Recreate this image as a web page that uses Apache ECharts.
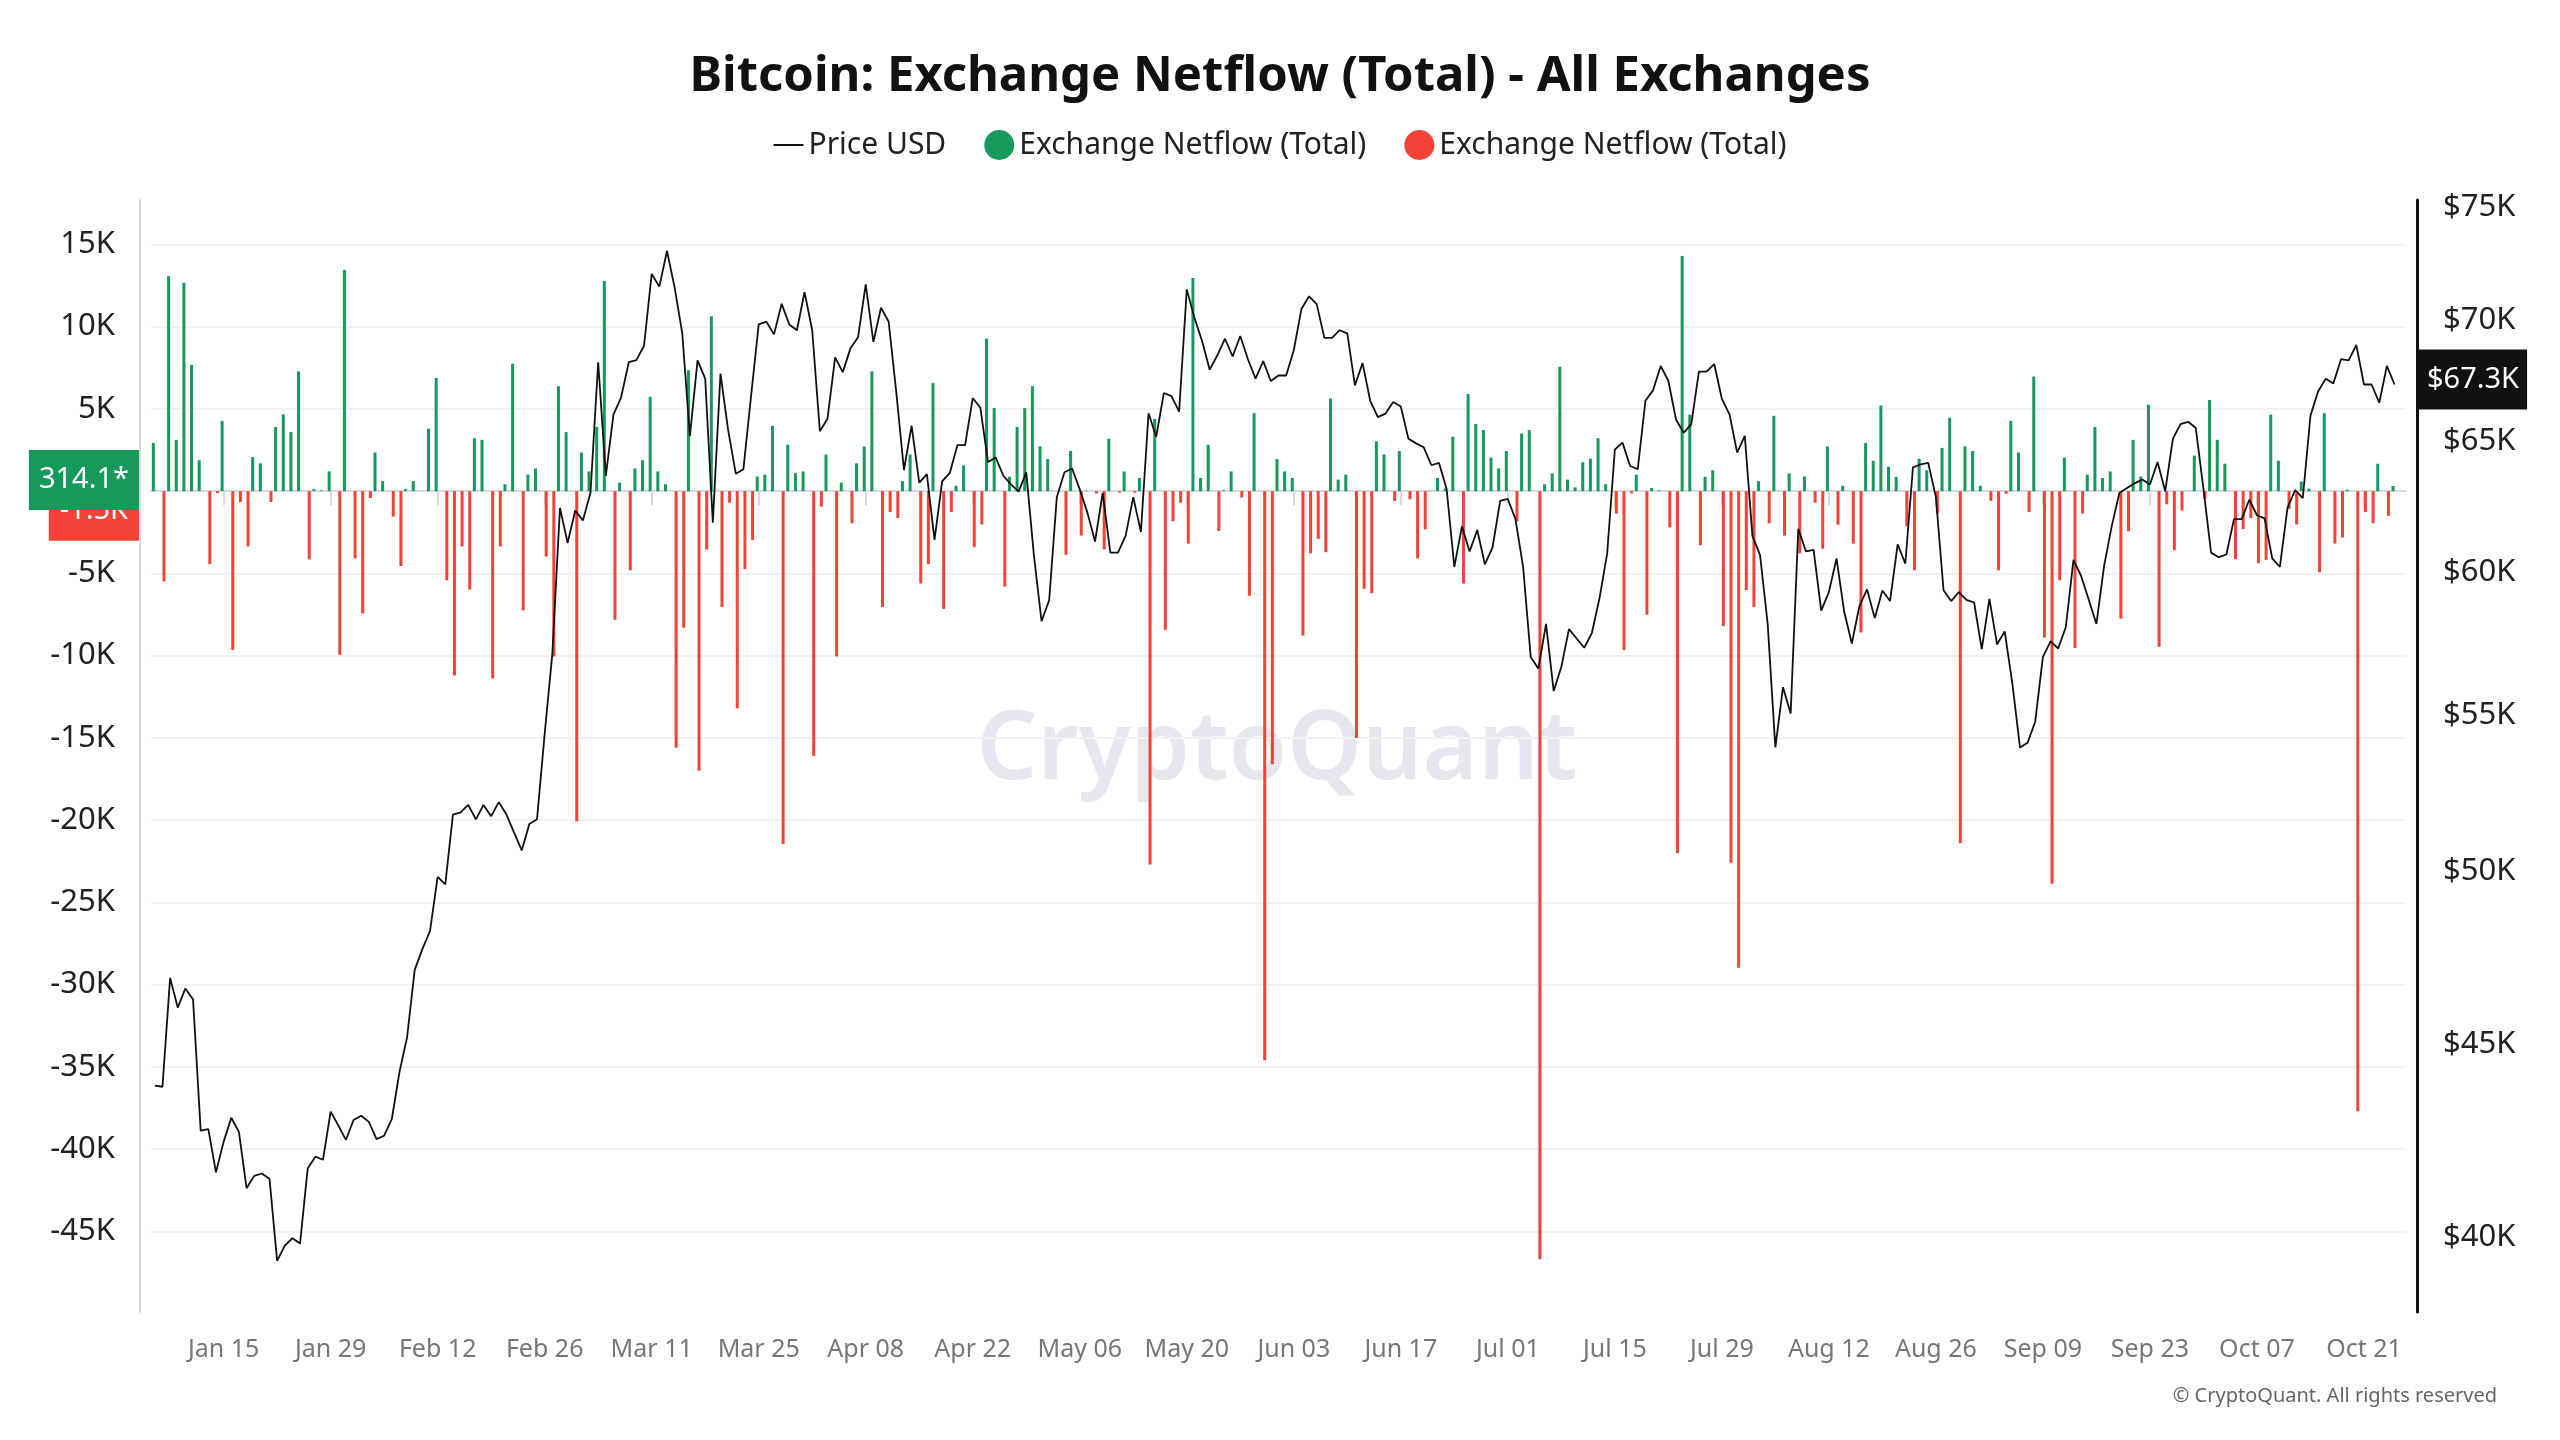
<!DOCTYPE html>
<html>
<head>
<meta charset="utf-8">
<title>Bitcoin: Exchange Netflow (Total) - All Exchanges</title>
<script src="https://cdn.jsdelivr.net/npm/echarts@6/dist/echarts.min.js"></script>
<style>
  html, body { margin: 0; padding: 0; background: #fff; }
  #chart { width: 2560px; height: 1440px; }
</style>
</head>
<body>
<div id="chart"></div>
<script>
// daily values, first day = 2024-01-06
var START = [2024, 0, 6];

// exchange netflow (BTC), one value per day
var netflowJan = [2930, -5490, 13070, 3120, 12670, 7670, 1880, -4440, -120, 4270, -9650, -660, -3360, 2070, 1690, -660, 3900, 4670, 3590, 7280, -4150, 120, 50, 1200, -9950, 13450];
var netflowFeb = [-4080, -7440, -420, 2350, 610, -1550, -4550, 120, 610, 0, 3800, 6880, -5420, -11200, -3360, -5980, 3220, 3120, -11380, -3360, 420, 7750, -7250, 1010, 1380, -3970, -10050, 6380, 3590];
var netflowMar = [-20070, 2350, 1200, 3900, 12770, -7820, 520, -4810, 1380, 1880, 5730, 1200, 420, -15600, -8300, 7350, -17000, -3540, 10630, -7040, -700, -13200, -4740, -2980, 890, 1000, 3970, -21450, 2820, 1100, 1200];
var netflowApr = [-16100, -940, 2230, -10050, 520, -1950, 1690, 2720, 7280, -7040, -1270, -1640, 610, 2230, -5610, -4440, 6570, -7160, -1270, 330, 1570, -3400, -2020, 9270, 5050, -5800, 870, 3900, 5050, 6380];
var netflowMay = [2720, 1950, 0, -3870, 2440, -2700, 20, -140, -3540, 3190, -90, 1200, -90, 800, -22700, 4390, -8430, -1830, -700, -3190, 12960, 800, 2820, -2420, 50, 1200, -380, -6360, 4740, -34600, -16600];
var netflowJun = [1950, 1200, 800, -8780, -3780, -2910, -3710, 5630, 700, 1000, -15000, -5940, -6200, 3030, 2230, -590, 2440, -490, -4080, -2320, 20, 800, 160, 3310, -5610, 5910, 4080, 3710, 2040, 1380];
var netflowJul = [2440, -1830, 3500, 3710, -46700, 420, 1080, 7560, 700, 230, 1760, 1970, 3220, 420, -1360, -9650, -140, 1000, -7510, 190, 50, -2200, -22000, 14300, 4650, -3290, 870, 1270, -8200, -22600, -28970];
var netflowAug = [-6010, -7040, 610, -1950, 4580, -2700, 1080, -3780, 890, -700, -3500, 2720, -2040, 330, -3190, -8590, 2930, 1850, 5210, 1480, 870, -2140, -4810, 1970, 1270, -1360, 2630, 4460, -21400, 2720, 2440];
var netflowSep = [330, -590, -4810, -160, 4270, 2350, -1270, 6970, -8900, -23860, -5420, 2040, -9530, -1360, 1000, 3900, 800, 1200, -7750, -2440, 3120, 890, 5260, -9460, -800, -3590, -1170, 0, 2160, -470];
var netflowOct = [5540, 3120, 1670, -4130, -2300, -1640, -4370, -4180, 4650, 1850, -1080, -2020, 590, 150, -4930, 4740, -3190, -2820, 90, -37700, -1270, -1950, 1670, -1500, 314.1];

// BTC price (USD), same days
var priceJan = [43870, 43840, 46850, 46010, 46550, 46240, 42680, 42720, 41610, 42390, 43020, 42650, 41210, 41520, 41580, 41450, 39420, 39790, 39970, 39840, 41710, 42010, 41930, 43180, 42820, 42440];
var priceFeb = [42960, 43070, 42910, 42460, 42550, 42980, 44230, 45180, 47080, 47680, 48210, 49830, 49600, 51760, 51830, 52065, 51610, 52065, 51710, 52155, 51760, 51190, 50640, 51465, 51615, 54370, 57080, 62410, 61090];
var priceMar = [62310, 61935, 63000, 68210, 63645, 66060, 66765, 68210, 68300, 68900, 71985, 71430, 73000, 71400, 69420, 65200, 68290, 67530, 61850, 67740, 65450, 63725, 63900, 66815, 69800, 69920, 69380, 70685, 69800, 69555, 71190];
var priceApr = [69555, 65400, 65900, 68410, 67800, 68790, 69260, 71530, 69060, 70515, 69920, 66970, 63870, 65620, 63380, 63710, 61205, 63425, 63755, 64850, 64850, 66735, 66340, 64180, 64360, 63645, 63315, 63030, 63780, 60635];
var priceMay = [58240, 58990, 62820, 63780, 63930, 63120, 62230, 61140, 62980, 60730, 60730, 61355, 62820, 61500, 66120, 65170, 66940, 66815, 66185, 71310, 70090, 69100, 67900, 68500, 69195, 68450, 69310, 68335, 67530, 68255, 67430];
var priceJun = [67660, 67660, 68710, 70465, 71010, 70670, 69230, 69230, 69555, 69420, 67255, 68175, 66625, 65965, 66105, 66575, 66390, 65095, 64915, 64760, 64055, 64145, 63120, 60200, 61710, 60775, 61575, 60300, 60920, 62675];
var priceJul = [62750, 61985, 60200, 56970, 56580, 58145, 55810, 56635, 57960, 57630, 57305, 57830, 59070, 60700, 64665, 64945, 64025, 63900, 66625, 67050, 68055, 67445, 65870, 65335, 65685, 67820, 67820, 68135, 66705, 66075, 64555];
var priceAug = [65215, 61355, 60635, 58130, 53925, 55945, 55050, 61620, 60775, 60830, 58620, 59285, 60515, 58585, 57455, 58790, 59380, 58350, 59340, 58960, 61040, 60320, 63975, 64085, 64145, 62820, 59355, 58960, 59285, 59005, 58910];
var priceSep = [57255, 59040, 57420, 57880, 56075, 53925, 54080, 54785, 56985, 57530, 57280, 58035, 60460, 59870, 59005, 58145, 60230, 61710, 62980, 63170, 63350, 63500, 63305, 64180, 63045, 65095, 65685, 65775, 65525, 63150];
var priceOct = [60730, 60560, 60660, 61985, 61985, 62720, 62130, 62015, 60515, 60200, 62410, 63095, 62780, 66020, 67005, 67530, 67335, 68335, 68290, 68930, 67290, 67290, 66545, 68055, 67290];

// axis ticks
var xTickDates = ['2024-01-15', '2024-01-29', '2024-02-12', '2024-02-26', '2024-03-11', '2024-03-25', '2024-04-08', '2024-04-22', '2024-05-06', '2024-05-20', '2024-06-03', '2024-06-17', '2024-07-01', '2024-07-15', '2024-07-29', '2024-08-12', '2024-08-26', '2024-09-09', '2024-09-23', '2024-10-07', '2024-10-21'];
var leftTicks = [-45000, -40000, -35000, -30000, -25000, -20000, -15000, -10000, -5000, 0, 5000, 10000, 15000];
var rightTicks = [40000, 45000, 50000, 55000, 60000, 65000, 70000, 75000];
var MONTHS = ['Jan', 'Feb', 'Mar', 'Apr', 'May', 'Jun', 'Jul', 'Aug', 'Sep', 'Oct', 'Nov', 'Dec'];

var GREEN = '#159a5c';
var RED = '#f44336';
var FONT = 'Noto Sans';
var NO_LINE = { width: 0, color: 'rgba(0,0,0,0)' };

var netflow = [].concat(netflowJan, netflowFeb, netflowMar, netflowApr, netflowMay, netflowJun, netflowJul, netflowAug, netflowSep, netflowOct);
var price = [].concat(priceJan, priceFeb, priceMar, priceApr, priceMay, priceJun, priceJul, priceAug, priceSep, priceOct);

var days = netflow.map(function (v, i) {
  return new Date(START[0], START[1], START[2] + i).getTime();
});
function parseDay(s) {
  var p = s.split('-');
  return new Date(+p[0], +p[1] - 1, +p[2]).getTime();
}
var xTicks = xTickDates.map(parseDay);

var inflowData = netflow.map(function (v, i) { return [days[i], v >= 0 ? v : '-']; });
var outflowData = netflow.map(function (v, i) { return [days[i], v < 0 ? v : '-']; });
var priceData = price.map(function (v, i) { return [days[i], v]; });

var lastPos = 0, lastNeg = 0;
netflow.forEach(function (v) { if (v >= 0) lastPos = v; else lastNeg = v; });
var lastPrice = price[price.length - 1];

var DAY = 24 * 3600 * 1000;
var xMin = days[0] - DAY / 2;
var xMax = days[days.length - 1] + 1.5 * DAY;

var chart = echarts.init(document.getElementById('chart'));

var option = {
  backgroundColor: '#fff',
  animation: false,
  textStyle: { fontFamily: FONT },
  title: {
    text: 'Bitcoin: Exchange Netflow (Total) - All Exchanges',
    left: 'center',
    top: 53,
    padding: 0,
    textStyle: { fontSize: 49, fontWeight: 'bold', color: '#111', fontFamily: FONT }
  },
  legend: {
    top: 130,
    left: 'center',
    padding: 0,
    itemGap: 38,
    itemWidth: 30,
    itemHeight: 30,
    symbolKeepAspect: true,
    textStyle: { fontSize: 30, color: '#222', fontFamily: FONT },
    data: [
      { name: 'Price USD', icon: 'path://M0,0H30V2H0Z' },
      { name: 'inflow', icon: 'circle' },
      { name: 'outflow', icon: 'circle' }
    ],
    formatter: function (name) {
      return name === 'Price USD' ? 'Price USD' : 'Exchange Netflow (Total)';
    }
  },
  grid: { left: 151, right: 154, top: 200, bottom: 128 },
  xAxis: {
    // dates as timestamps on a plain value axis, ticks every two weeks
    type: 'value',
    min: xMin,
    max: xMax,
    axisLine: { lineStyle: { color: '#d8d8e0', width: 2 } },
    axisTick: { show: true, length: 14, customValues: xTicks, lineStyle: { color: '#d8d8e0', width: 2 } },
    axisLabel: {
      customValues: xTicks,
      margin: 25,
      fontSize: 25,
      color: '#777',
      formatter: function (val) {
        var d = new Date(val);
        var dd = d.getDate();
        return MONTHS[d.getMonth()] + ' ' + (dd < 10 ? '0' + dd : dd);
      }
    },
    splitLine: { show: false }
  },
  yAxis: [
    {
      type: 'value',
      position: 'left',
      min: -49900,
      max: 17700,
      offset: 11,
      axisLine: { show: true, lineStyle: { color: '#d8d8e0', width: 2 } },
      axisTick: { show: false, customValues: leftTicks },
      axisLabel: {
        customValues: leftTicks,
        margin: 25,
        fontSize: 31,
        color: '#222',
        formatter: function (v) { return v === 0 ? '0' : (v / 1000) + 'K'; }
      },
      splitLine: { show: true, lineStyle: { color: '#f2f2f4', width: 2 } }
    },
    {
      type: 'log',
      position: 'right',
      min: 38211,
      max: 75307,
      offset: 11,
      axisLine: { show: true, lineStyle: { color: '#111', width: 3 } },
      axisTick: { show: false, customValues: rightTicks },
      axisLabel: {
        customValues: rightTicks,
        margin: 26,
        fontSize: 31,
        color: '#222',
        formatter: function (v) { return '$' + Math.round(v / 1000) + 'K'; }
      },
      splitLine: { show: false }
    }
  ],
  graphic: [
    {
      type: 'text',
      z: 0,
      x: 1277,
      y: 752,
      style: {
        text: 'CryptoQuant',
        fontSize: 95,
        fontWeight: 600,
        fontFamily: FONT,
        fill: '#e6e6ee',
        textAlign: 'center',
        textVerticalAlign: 'middle'
      }
    },
    {
      type: 'text',
      x: 2497,
      y: 1396,
      style: {
        text: '\u00a9 CryptoQuant. All rights reserved',
        fontSize: 20,
        fontFamily: FONT,
        fill: '#666',
        textAlign: 'right',
        textVerticalAlign: 'middle'
      }
    }
  ],
  series: [
    {
      name: 'inflow',
      type: 'bar',
      yAxisIndex: 0,
      barWidth: 3,
      barGap: '0%',
      itemStyle: { color: GREEN },
      data: inflowData,
      z: 2,
      markLine: {
        silent: true,
        symbol: 'none',
        z: 6,
        lineStyle: NO_LINE,
        label: {
          position: 'start',
          distance: 12,
          offset: [0, -6],
          formatter: function (p) { return p.value.toFixed(1) + '*'; },
          backgroundColor: GREEN,
          color: '#fff',
          fontSize: 29,
          lineHeight: 30,
          padding: [15, 10],
          fontFamily: FONT
        },
        data: [{ yAxis: lastPos }]
      }
    },
    {
      name: 'outflow',
      type: 'bar',
      yAxisIndex: 0,
      barWidth: 3,
      barGap: '0%',
      itemStyle: { color: RED },
      data: outflowData,
      z: 2,
      markLine: {
        silent: true,
        symbol: 'none',
        z: 5,
        lineStyle: NO_LINE,
        label: {
          position: 'start',
          distance: 12,
          offset: [0, -5],
          formatter: function (p) { return (p.value / 1000).toFixed(1) + 'K'; },
          backgroundColor: RED,
          color: '#fff',
          fontSize: 29,
          lineHeight: 30,
          padding: [15, 11],
          fontFamily: FONT
        },
        data: [{ yAxis: lastNeg }]
      }
    },
    {
      name: 'Price USD',
      type: 'line',
      yAxisIndex: 1,
      data: priceData,
      symbol: 'none',
      z: 3,
      itemStyle: { color: '#111' },
      lineStyle: { color: '#111', width: 1.8 },
      markLine: {
        silent: true,
        symbol: 'none',
        z: 6,
        lineStyle: NO_LINE,
        label: {
          position: 'end',
          distance: 13,
          offset: [0, -5],
          formatter: function (p) { return '$' + (p.value / 1000).toFixed(1) + 'K'; },
          backgroundColor: '#111',
          color: '#fff',
          fontSize: 29,
          lineHeight: 30,
          padding: [15, 8],
          fontFamily: FONT
        },
        data: [{ yAxis: lastPrice }]
      }
    }
  ]
};

chart.setOption(option);
</script>
</body>
</html>
